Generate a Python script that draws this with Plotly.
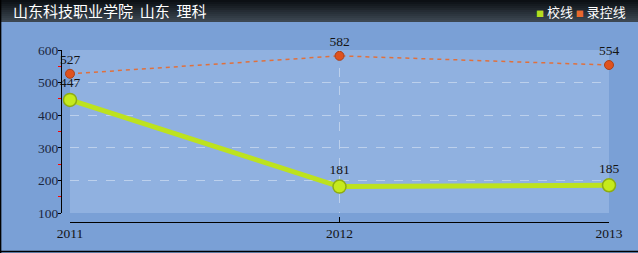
import plotly.graph_objects as go

years = [2011, 2012, 2013]
school_line = [447, 181, 185]      # 校线
control_line = [527, 582, 554]     # 录控线
series_names = ["校线", "录控线"]
title_text = "山东科技职业学院  山东  理科"
y_ticks = [100, 200, 300, 400, 500, 600]

W, H = 638, 253
NUM_FONT = "Liberation Serif"

fig = go.Figure()

fig.add_trace(go.Scatter(
    x=years, y=control_line, name=series_names[1],
    mode="lines+markers+text",
    line=dict(color="#e0703c", width=1.5, dash="4px,4px"),
    marker=dict(size=9, color="#e0521e", line=dict(color="#a9401a", width=1)),
    text=[str(v) for v in control_line], textposition="top center",
    textfont=dict(family=NUM_FONT, size=13.5, color="#141414"),
    cliponaxis=False, showlegend=False,
))
fig.add_trace(go.Scatter(
    x=years, y=school_line, name=series_names[0],
    mode="lines+markers+text",
    line=dict(color="#bde21e", width=5),
    marker=dict(size=13, color="#c6ea1c", line=dict(color="#8eac12", width=1.5)),
    text=[str(v) for v in school_line], textposition="top center",
    textfont=dict(family=NUM_FONT, size=13.5, color="#141414"),
    cliponaxis=False, showlegend=False,
))

shapes = []
# title bar gradient
top = (12, 16, 20)
bot = (60, 71, 82)
n = 11
bar_h = 22
for i in range(n):
    t = i / (n - 1)
    c = tuple(int(top[k] + (bot[k] - top[k]) * t) for k in range(3))
    y0 = 1 - (i * bar_h / n) / H
    y1 = 1 - ((i + 1) * bar_h / n) / H
    shapes.append(dict(type="rect", xref="paper", yref="paper", x0=0, x1=1, y0=y1, y1=y0,
                       fillcolor="rgb(%d,%d,%d)" % c, line=dict(width=0), layer="below"))
# border left and bottom
shapes.append(dict(type="line", xref="paper", yref="paper", x0=0.6 / W, x1=0.6 / W, y0=0, y1=1,
                   line=dict(color="#000000", width=1.5)))
shapes.append(dict(type="line", xref="paper", yref="paper", x0=0, x1=1, y0=1.5 / H, y1=1.5 / H,
                   line=dict(color="#000000", width=1.5)))

fig.update_layout(
    width=W, height=H,
    margin=dict(l=0, r=0, t=0, b=0, pad=0, autoexpand=False),
    paper_bgcolor="#7aa0d6",
    plot_bgcolor="#90b1e0",
    shapes=shapes,
    xaxis=dict(
        domain=[70 / W, 609 / W], range=[2011, 2013],
        tickvals=years, ticktext=[str(y) for y in years],
        anchor="free", position=1 - 222 / H, automargin=False,
        showline=True, linecolor="#000000", linewidth=1,
        ticks="inside", ticklen=5, tickcolor="#000000",
        ticklabelstandoff=-1,
        showgrid=True, gridcolor="rgba(255,255,255,0.4)", griddash="dash", gridwidth=1,
        zeroline=False,
        tickfont=dict(family=NUM_FONT, size=13.5, color="#141414"),
    ),
    yaxis=dict(
        domain=[1 - 213 / H, 1 - 50 / H], range=[100, 600],
        tickvals=y_ticks,
        anchor="free", position=61 / W, automargin=False,
        showline=True, linecolor="#000000", linewidth=1,
        ticks="outside", ticklen=3, tickcolor="#000000",
        ticklabelstandoff=-3,
        minor=dict(dtick=50, ticks="outside", ticklen=3, tickcolor="#ff0000", showgrid=False),
        showgrid=True, gridcolor="rgba(255,255,255,0.4)", griddash="dash", gridwidth=1,
        zeroline=False,
        tickfont=dict(family=NUM_FONT, size=13.5, color="#1a2740"),
    ),
    annotations=[
        dict(text=title_text, xref="paper", yref="paper", x=11 / W, y=1 - 11 / H,
             xanchor="left", yanchor="middle", showarrow=False,
             font=dict(family="Noto Sans CJK SC", size=15, color="#ffffff")),
        dict(text="<span style='color:#b5dc1e;font-size:8px'>■</span> " + series_names[0]
                  + " <span style='color:#e8692e;font-size:8px'>■</span> " + series_names[1],
             xref="paper", yref="paper", x=1 - 10 / W, y=1 - 12 / H,
             xanchor="right", yanchor="middle", showarrow=False,
             font=dict(family="Noto Sans CJK SC", size=13, color="#ffffff")),
    ],
)

fig.write_html(
    "out.html",
    config={"responsive": False, "displayModeBar": False},
    post_script="document.body.style.margin='0';document.body.style.overflow='hidden';",
)
